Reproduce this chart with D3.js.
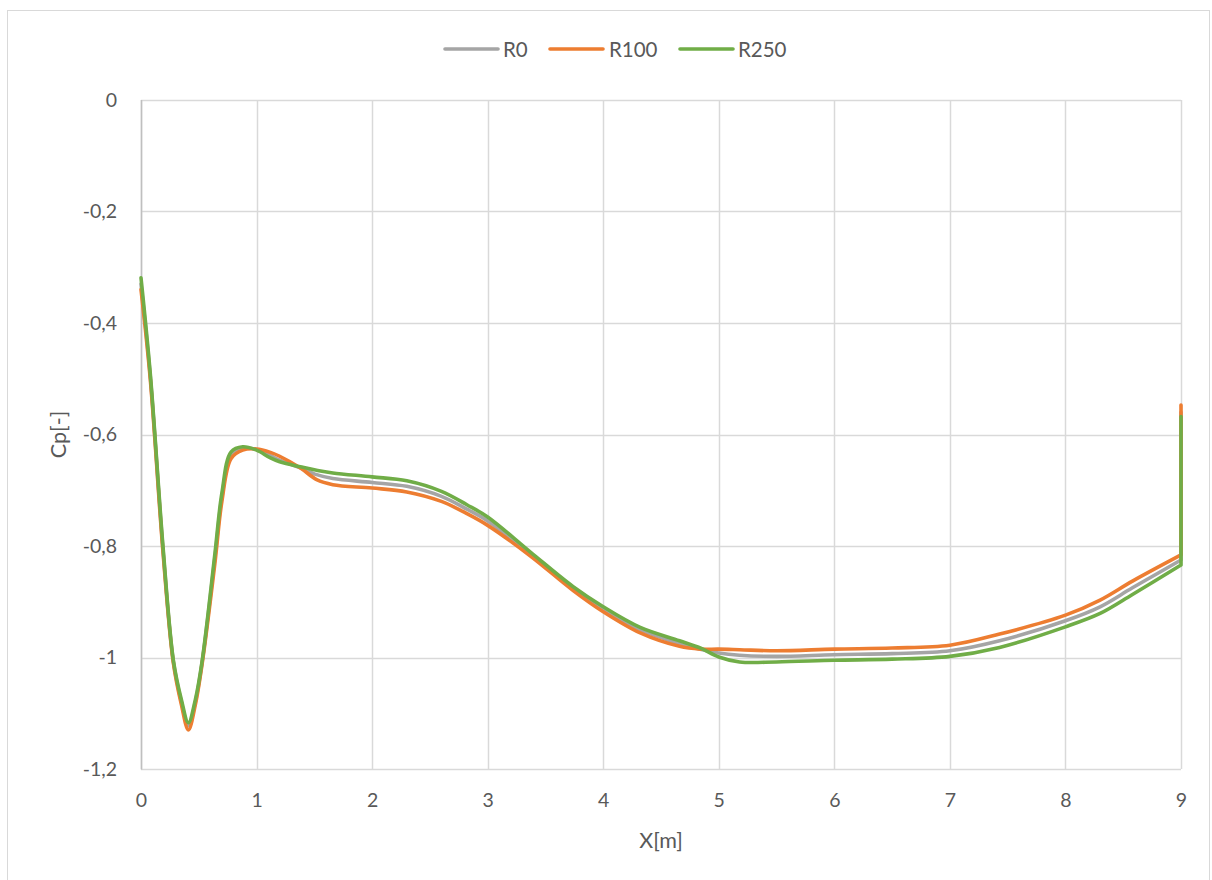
<!DOCTYPE html>
<html>
<head>
<meta charset="utf-8">
<script src="https://cdn.jsdelivr.net/npm/d3@7"></script>
<style>
  html, body { margin: 0; padding: 0; background: #fff; }
  svg { display: block; }
  text { font-family: Lato, "Open Sans", sans-serif; fill: #595959; }
</style>
</head>
<body>
<svg id="chart" width="1212" height="880"></svg>
<script>
const xValues = [0, 0.08, 0.19, 0.28, 0.35, 0.41, 0.47, 0.53, 0.64, 0.70, 0.78, 0.88, 1.0, 1.12, 1.2, 1.38, 1.52, 1.66, 2.0, 2.3, 2.6, 2.82, 3.0, 3.37, 3.74, 4.0, 4.32, 4.66, 4.84, 5.0, 5.18, 5.5, 6.0, 6.5, 7.0, 7.43, 8.0, 8.3, 8.58, 9.0, 9.0];

const r0 = [-0.33, -0.495, -0.805, -1.007, -1.08, -1.123, -1.08, -1.007, -0.82, -0.712, -0.637, -0.625, -0.627, -0.638, -0.646, -0.660, -0.672, -0.679, -0.686, -0.693, -0.711, -0.734, -0.755, -0.814, -0.877, -0.913, -0.950, -0.975, -0.985, -0.992, -0.996, -0.998, -0.995, -0.993, -0.988, -0.970, -0.934, -0.909, -0.875, -0.825, -0.56];

const r100 = [-0.34, -0.50, -0.81, -1.01, -1.085, -1.130, -1.085, -1.01, -0.83, -0.72, -0.643, -0.628, -0.626, -0.632, -0.639, -0.660, -0.681, -0.690, -0.696, -0.703, -0.720, -0.742, -0.763, -0.818, -0.880, -0.918, -0.956, -0.980, -0.985, -0.985, -0.986, -0.988, -0.985, -0.983, -0.978, -0.958, -0.924, -0.897, -0.863, -0.816, -0.547];

const r250 = [-0.319, -0.49, -0.80, -1.005, -1.076, -1.117, -1.076, -1.005, -0.813, -0.705, -0.631, -0.622, -0.628, -0.642, -0.649, -0.658, -0.664, -0.669, -0.676, -0.683, -0.702, -0.726, -0.748, -0.811, -0.873, -0.909, -0.946, -0.970, -0.983, -0.999, -1.008, -1.008, -1.005, -1.003, -0.998, -0.982, -0.945, -0.921, -0.887, -0.834, -0.568];

const seriesNames = ["R0", "R100", "R250"];
const seriesColors = ["#a5a5a5", "#ed7d31", "#70ad47"];
const seriesValues = [r0, r100, r250];

const xTicks = [0, 1, 2, 3, 4, 5, 6, 7, 8, 9];
const yTicks = [0, -0.2, -0.4, -0.6, -0.8, -1, -1.2];
const xTitle = "X[m]";
const yTitle = "Cp[-]";

const svg = d3.select("#chart");
const m = { left: 141, top: 100, right: 1181, bottom: 769 };
const FONT = "Lato, 'Open Sans', sans-serif";

// chart border
svg.append("rect").attr("x", 7.5).attr("y", 10.5).attr("width", 1202).attr("height", 880)
  .attr("fill", "#fff").attr("stroke", "#d9d9d9").attr("stroke-width", 1);

const x = d3.scaleLinear().domain([0, 9]).range([m.left, m.right]);
const y = d3.scaleLinear().domain([-1.2, 0]).range([m.bottom, m.top]);

const fmt = v => (v === 0 ? "0" : String(+v.toFixed(1)).replace(".", ","));

// gridlines
const grid = svg.append("g");
grid.selectAll("line.h").data(yTicks).enter().append("line")
  .attr("x1", m.left).attr("x2", m.right)
  .attr("y1", d => Math.round(y(d)) + 0.5).attr("y2", d => Math.round(y(d)) + 0.5)
  .attr("stroke", "#d9d9d9").attr("stroke-width", 1.5);
grid.selectAll("line.v").data(xTicks).enter().append("line")
  .attr("y1", m.top).attr("y2", m.bottom)
  .attr("x1", d => Math.round(x(d)) + 0.5).attr("x2", d => Math.round(x(d)) + 0.5)
  .attr("stroke", "#d9d9d9").attr("stroke-width", 1.5);

// left axis line
svg.append("line").attr("x1", m.left + 0.5).attr("x2", m.left + 0.5)
  .attr("y1", m.top).attr("y2", m.bottom + 0.5)
  .attr("stroke", "#bfbfbf").attr("stroke-width", 1.5);

// axes (labels only)
const yAxis = d3.axisLeft(y).tickValues(yTicks).tickFormat(fmt).tickSize(0).tickPadding(24);
const gy = svg.append("g").attr("transform", `translate(${m.left},0)`).call(yAxis);
gy.select(".domain").remove();
gy.selectAll("text").style("font-size", "19.5px").attr("fill", "#595959").style("font-family", FONT);

const xAxis = d3.axisBottom(x).tickValues(xTicks).tickFormat(d => String(d)).tickSize(0).tickPadding(24);
const gx = svg.append("g").attr("transform", `translate(0,${m.bottom})`).call(xAxis);
gx.select(".domain").remove();
gx.selectAll("text").style("font-size", "19.5px").attr("fill", "#595959").style("font-family", FONT);

// titles
svg.append("text").attr("x", (m.left + m.right) / 2).attr("y", 848)
  .attr("text-anchor", "middle").style("font-size", "21.5px").text(xTitle);
svg.append("text").attr("transform", `translate(66,${(m.top + m.bottom) / 2}) rotate(-90)`)
  .attr("text-anchor", "middle").style("font-size", "21.5px").text(yTitle);

// lines: smooth main part + final vertical segment at x = 9
const smooth = d3.line().x(d => x(d[0])).y(d => y(d[1])).curve(d3.curveCatmullRom.alpha(0.5));
const straight = d3.line().x(d => x(d[0])).y(d => y(d[1]));

const plot = svg.append("g");
seriesValues.forEach((vals, i) => {
  const pts = xValues.map((xv, j) => [xv, vals[j]]);
  const main = pts.slice(0, pts.length - 1);
  const tail = pts.slice(pts.length - 2);
  plot.append("path").attr("d", smooth(main) + straight(tail).replace(/^M[^L]*/, ""))
    .attr("fill", "none")
    .attr("stroke", seriesColors[i])
    .attr("stroke-width", 3.6)
    .attr("stroke-linejoin", "round")
    .attr("stroke-linecap", "round");
});

// legend
const legendItems = [
  { x1: 445, tx: 503 },
  { x1: 550, tx: 609 },
  { x1: 680, tx: 738 }
];
const lg = svg.append("g");
seriesNames.forEach((name, i) => {
  const it = legendItems[i];
  lg.append("line").attr("x1", it.x1).attr("x2", it.x1 + 53).attr("y1", 49).attr("y2", 49)
    .attr("stroke", seriesColors[i]).attr("stroke-width", 3.6).attr("stroke-linecap", "round");
  lg.append("text").attr("x", it.tx).attr("y", 56.5).style("font-size", "20.5px").text(name);
});
</script>
</body>
</html>
